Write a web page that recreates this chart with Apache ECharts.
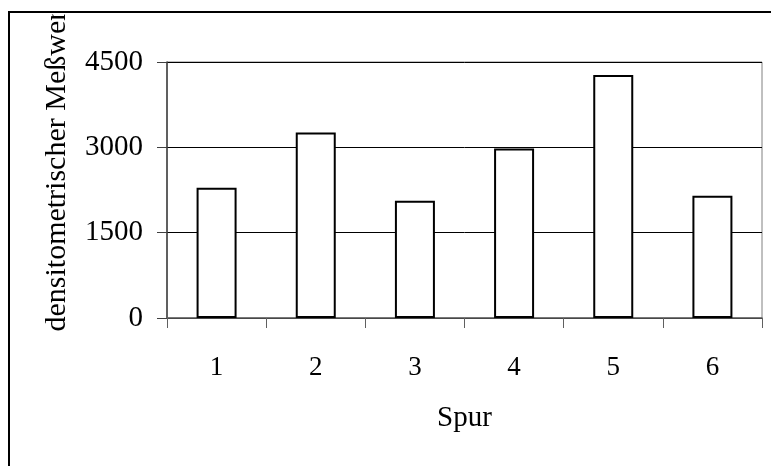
<!DOCTYPE html>
<html>
<head>
<meta charset="utf-8">
<script src="https://cdn.jsdelivr.net/npm/echarts@6/dist/echarts.min.js"></script>
<style>
  html, body { margin: 0; padding: 0; background: #fff; }
  #chart { width: 771px; height: 466px; }
</style>
</head>
<body>
<div id="chart"></div>
<script>
// Lanes (Spur) and their densitometric readings
const lanes = ['1', '2', '3', '4', '5', '6'];
const readings = [2290, 3260, 2060, 2980, 4270, 2150];
const yTicks = [0, 1500, 3000, 4500];

const yAxisTitle = 'densitometrischer Meßwert';
const xAxisTitle = 'Spur';

const serif = '"Liberation Serif", "Times New Roman", serif';

const chart = echarts.init(document.getElementById('chart'), null, { renderer: 'canvas' });

chart.setOption({
  animation: false,
  backgroundColor: '#fff',
  grid: {
    left: 167, top: 62, right: 9, bottom: 148,
    show: true, borderColor: '#808080', borderWidth: 1
  },
  xAxis: {
    type: 'category',
    data: lanes,
    boundaryGap: true,
    name: xAxisTitle,
    nameLocation: 'middle',
    nameGap: 86,
    nameTextStyle: { fontFamily: serif, fontSize: 29, color: '#000' },
    axisLine: { lineStyle: { color: '#606060', width: 1.5 } },
    axisTick: { show: true, alignWithLabel: false, length: 10, lineStyle: { color: '#606060', width: 1 } },
    axisLabel: { fontFamily: serif, fontSize: 27, color: '#000', margin: 36 },
    splitLine: { show: false }
  },
  yAxis: {
    type: 'value',
    min: yTicks[0],
    max: yTicks[yTicks.length - 1],
    interval: yTicks[1] - yTicks[0],
    axisLine: { show: true, lineStyle: { color: '#404040', width: 1.5 } },
    axisTick: { show: true, length: 10, lineStyle: { color: '#404040', width: 1 } },
    axisLabel: {
      fontFamily: serif, fontSize: 29, color: '#000', margin: 24,
      formatter: (v) => String(v)
    },
    splitLine: { show: true, lineStyle: { color: '#000', width: 1 } }
  },
  series: [{
    type: 'bar',
    data: readings,
    barWidth: 40,
    itemStyle: { color: '#fff', borderColor: '#000', borderWidth: 2 }
  }],
  graphic: [
    {
      type: 'text',
      x: 57, y: 167,
      rotation: Math.PI / 2,
      z: 10,
      style: {
        text: yAxisTitle,
        font: '30px ' + serif,
        fill: '#000',
        textAlign: 'center',
        textVerticalAlign: 'middle'
      }
    },
    {
      // the title runs past the chart frame and is cut off there
      type: 'rect',
      shape: { x: 20, y: 0, width: 80, height: 14.5 },
      style: { fill: '#fff' },
      z: 20
    },
    {
      type: 'rect',
      shape: { x: 9, y: 12, width: 820, height: 520 },
      style: { fill: 'none', stroke: '#000', lineWidth: 2 },
      z: 30
    }
  ]
});
</script>
</body>
</html>
